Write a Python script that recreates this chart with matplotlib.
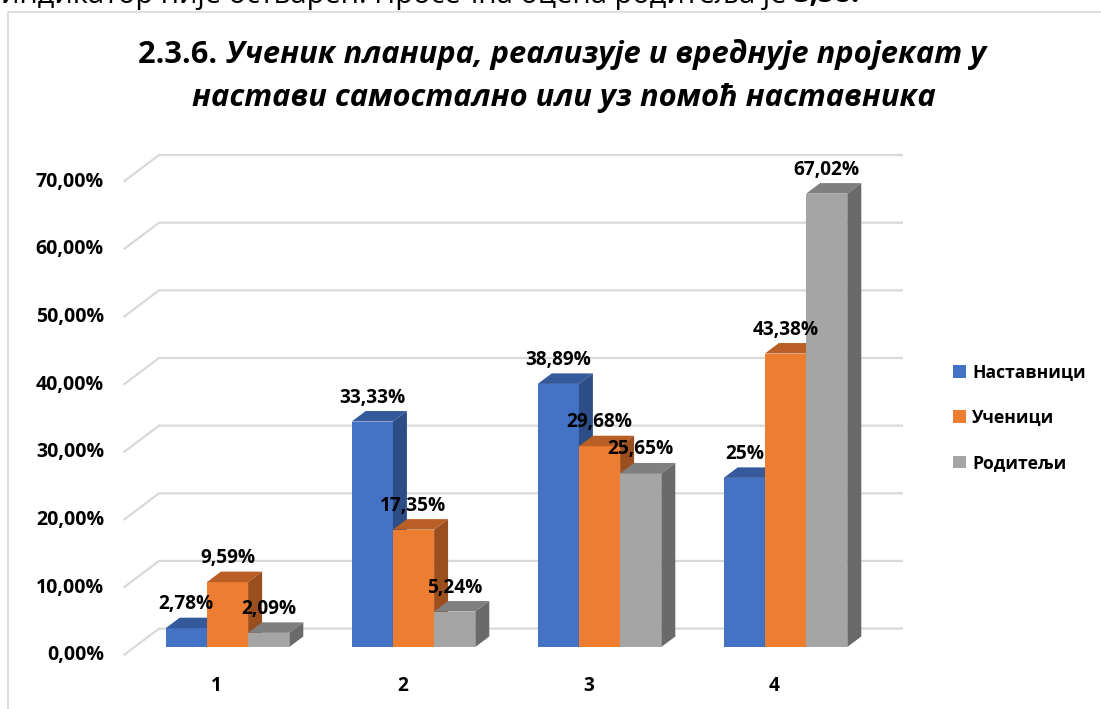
import matplotlib
matplotlib.use('Agg')
import matplotlib.pyplot as plt
from matplotlib.patches import Polygon
from matplotlib.lines import Line2D

# ---------------- data ----------------
categories = ['1', '2', '3', '4']
series_names = ['Наставници', 'Ученици', 'Родитељи']
nastavnici = [2.78, 33.33, 38.89, 25.0]
ucenici = [9.59, 17.35, 29.68, 43.38]
roditelji = [2.09, 5.24, 25.65, 67.02]
labels_nastavnici = ['2,78%', '33,33%', '38,89%', '25%']
labels_ucenici = ['9,59%', '17,35%', '29,68%', '43,38%']
labels_roditelji = ['2,09%', '5,24%', '25,65%', '67,02%']
y_ticks = [0, 10, 20, 30, 40, 50, 60, 70]
y_tick_labels = ['0,00%', '10,00%', '20,00%', '30,00%', '40,00%', '50,00%', '60,00%', '70,00%']
title_prefix = '2.3.6. '
title_line1 = 'Ученик планира, реализује и вреднује пројекат у'
title_line2 = 'настави самостално или уз помоћ наставника'
top_text = 'индикатор није остварен. Просечна оцена родитеља је '
top_value = '3,58.'

# ---------------- styles ----------------
FONT = ['Open Sans', 'DejaVu Sans']
plt.rcParams['font.family'] = FONT
front_cols = ['#4472C4', '#ED7D31', '#A5A5A5']
top_cols = ['#345A9B', '#B95F25', '#7F7F7F']
side_cols = ['#2C4D86', '#9B4F1E', '#6A6A6A']
grid_col = '#D9D9D9'

W, H = 1101, 709
fig = plt.figure(figsize=(W / 100, H / 100), dpi=100)
renderer = fig.canvas.get_renderer()


def fit_size(text, target_px, **kw):
    t = fig.text(0, 0, text, fontsize=20, **kw)
    w = t.get_window_extent(renderer).width
    t.remove()
    return 20 * target_px / w


# axes pixel box & mapping
AX_L, AX_R, AX_T, AX_B = 100, 910, 140, 680
X0PX, PX_CAT = 227.5, 186.0
Y0PX, PX_PCT = 647.0, 6.765
ax = fig.add_axes([AX_L / W, (H - AX_B) / H, (AX_R - AX_L) / W, (AX_B - AX_T) / H])
ax.set_xlim((AX_L - X0PX) / PX_CAT, (AX_R - X0PX) / PX_CAT)
ax.set_ylim((Y0PX - AX_B) / PX_PCT, (Y0PX - AX_T) / PX_PCT)
ax.axis('off')


def dx(px):
    return px / PX_CAT


def dy(px):
    return px / PX_PCT


def xpx(p):
    return (p - X0PX) / PX_CAT


# back wall gridlines with perspective floor diagonal
BACK_UP = 18.4
DIAG_DOWN = 26.7
for v, lab in zip(y_ticks, y_tick_labels):
    yb = v + dy(BACK_UP)
    yf = yb - dy(DIAG_DOWN)
    ax.plot([xpx(123.5), xpx(159), xpx(903)], [yf, yb, yb], color=grid_col, lw=1.6,
            solid_capstyle='butt', zorder=1)
    ax.text(xpx(104), yf, lab, ha='right', va='center', fontsize=fit_size('70,00%', 68, fontweight='bold'),
            fontweight='bold', color='#000000')

# bars with pseudo-3D faces
bw = dx(41.2)
ddx, ddy = dx(14), dy(10.5)
series = [nastavnici, ucenici, roditelji]
series_labels = [labels_nastavnici, labels_ucenici, labels_roditelji]
lab_fs = fit_size('67,02%', 66, fontweight='bold')
xs = list(range(len(categories)))
handles = []
for j, (vals, labs) in enumerate(zip(series, series_labels)):
    z = 3 + j
    centers = [i + (j - 1) * bw for i in xs]
    bars = ax.bar(centers, vals, width=bw, color=front_cols[j], zorder=z, linewidth=0,
                  label=series_names[j])
    handles.append(bars)
    for c, v, lab in zip(centers, vals, labs):
        x0, x1 = c - bw / 2, c + bw / 2
        ax.add_patch(Polygon([(x0, v), (x1, v), (x1 + ddx, v + ddy), (x0 + ddx, v + ddy)],
                             closed=True, facecolor=top_cols[j], edgecolor='none', zorder=z))
        ax.add_patch(Polygon([(x1, 0), (x1, v), (x1 + ddx, v + ddy), (x1 + ddx, ddy)],
                             closed=True, facecolor=side_cols[j], edgecolor='none', zorder=z))
        ax.annotate(lab, xy=(c, v), xytext=(0, 24), textcoords='offset pixels',
                    ha='center', va='center', fontsize=lab_fs, fontweight='bold',
                    color='#000000', zorder=10)

# category labels
for i, cat in zip(xs, categories):
    ax.text(i - dx(11), (Y0PX - 686) / PX_PCT, cat, ha='center', va='center',
            fontsize=lab_fs, fontweight='bold')

# legend
leg_fs = fit_size('Наставници', 113, fontweight='bold')
leg = fig.legend(handles=handles, labels=series_names, loc='center left',
                 bbox_to_anchor=(953 / W, 1 - 418 / H), frameon=False,
                 prop={'family': FONT, 'weight': 'bold', 'size': leg_fs},
                 handlelength=0.75, handleheight=0.75, handletextpad=0.35,
                 labelspacing=1.55, borderaxespad=0, borderpad=0)

# title
t_fs = fit_size(title_prefix + title_line1, 846, fontweight='bold', fontstyle='italic')
y1 = 1 - 63 / H
y2 = 1 - 106 / H
tp = fig.text(0, 0, title_prefix, fontsize=t_fs, fontweight='bold')
wp = tp.get_window_extent(renderer).width
tp.remove()
tl = fig.text(0, 0, title_line1, fontsize=t_fs, fontweight='bold', fontstyle='italic')
wl = tl.get_window_extent(renderer).width
tl.remove()
start = 562 - (wp + wl) / 2
fig.text(start / W, y1, title_prefix, fontsize=t_fs, fontweight='bold', va='baseline', ha='left')
fig.text((start + wp) / W, y1, title_line1, fontsize=t_fs, fontweight='bold', fontstyle='italic',
         va='baseline', ha='left')
fig.text(564 / W, y2, title_line2, fontsize=t_fs, fontweight='bold', fontstyle='italic',
         va='baseline', ha='center')

# clipped text line at top of page
tt_fs = fit_size(top_text + top_value, 855)
tt = fig.text(0, 0, top_text, fontsize=tt_fs)
wt = tt.get_window_extent(renderer).width
tt.remove()
fig.text(1 / W, 1 - 2.5 / H, top_text, fontsize=tt_fs, va='baseline', ha='left')
fig.text((1 + wt) / W, 1 - 2.5 / H, top_value, fontsize=tt_fs, fontweight='bold', va='baseline', ha='left')

# chart area border (top and left visible)
fig.add_artist(Line2D([8 / W, 8 / W, 1], [0, 1 - 12 / H, 1 - 12 / H], transform=fig.transFigure,
                      color=grid_col, lw=1.2))

fig.savefig('out.png', dpi=100)
